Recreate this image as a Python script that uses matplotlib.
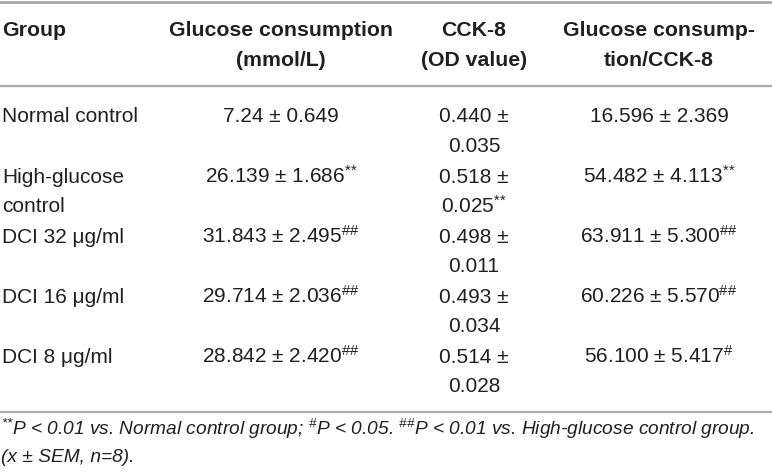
import matplotlib
matplotlib.use("Agg")
import matplotlib.pyplot as plt
from matplotlib.lines import Line2D

W, H = 772, 473
INK = "#231f20"
RULE = "#a7a9ac"

plt.rcParams.update({
    "font.family": "Liberation Sans",
    "mathtext.fontset": "custom",
    "mathtext.rm": "Liberation Sans",
    "mathtext.it": "Liberation Sans:italic",
    "mathtext.bf": "Liberation Sans:bold",
    "mathtext.default": "regular",
})

# table content
headers = [
    ["Group"],
    ["Glucose consumption", "(mmol/L)"],
    ["CCK-8", "(OD value)"],
    ["Glucose consump-", "tion/CCK-8"],
]
groups = ["Normal control", "High-glucose\ncontrol", "DCI 32 \u03bcg/ml",
          "DCI 16 \u03bcg/ml", "DCI 8 \u03bcg/ml"]
glu_mean = ["7.24", "26.139", "31.843", "29.714", "28.842"]
glu_sem = ["0.649", "1.686", "2.495", "2.036", "2.420"]
glu_sig = ["", "**", "##", "##", "##"]
cck_mean = ["0.440", "0.518", "0.498", "0.493", "0.514"]
cck_sem = ["0.035", "0.025", "0.011", "0.034", "0.028"]
cck_sig = ["", "**", "", "", ""]
ratio_mean = ["16.596", "54.482", "63.911", "60.226", "56.100"]
ratio_sem = ["2.369", "4.113", "5.300", "5.570", "5.417"]
ratio_sig = ["", "**", "##", "##", "#"]


def sup(mark):
    # superscript significance marks; braces keep '*' from getting operator spacing
    if not mark:
        return ""
    inner = "".join("{" + ("\\#" if c == "#" else c) + "}" for c in mark)
    return "$^{" + inner + "}$"


foot1 = (sup("**") + "P < 0.01 vs. Normal control group; " + sup("#") +
         "P < 0.05. " + sup("##") + "P < 0.01 vs. High-glucose control group.")
foot2 = "(x \u00b1 SEM, n=8)."

fig = plt.figure(figsize=(W / 100, H / 100), dpi=100)


def fx(x):
    return x / W


def fy(y):
    return 1 - y / H


def put(x, y, s, ha="center", dy=7.5, **kw):
    # y is the visual centre of the line in pixels from the top
    fig.text(fx(x), fy(y + dy), s, ha=ha, va="baseline", color=INK, **kw)


def rule(y, lw=1.6):
    fig.add_artist(Line2D([0, 1], [fy(y), fy(y)], transform=fig.transFigure,
                          color=RULE, lw=lw))


rule(2, lw=2.0)
rule(86)
rule(412)

col_x = [2, 281, 474, 659]
LINE = 30
FS = 15

# header
for i, lines in enumerate(headers):
    for j, s in enumerate(lines):
        put(col_x[i], 29 + j * LINE, s, ha="left" if i == 0 else "center",
            fontsize=FS + 0.3, fontweight="bold")

# body rows
row_y = [115, 175, 235, 295, 355]
for k, y in enumerate(row_y):
    for j, s in enumerate(groups[k].split("\n")):
        put(col_x[0], y + j * LINE, s, ha="left", fontsize=FS)
    put(col_x[1], y, f"{glu_mean[k]} \u00b1 {glu_sem[k]}" + sup(glu_sig[k]), fontsize=FS)
    put(col_x[2], y, f"{cck_mean[k]} \u00b1", fontsize=FS)
    put(col_x[2], y + LINE, cck_sem[k] + sup(cck_sig[k]), fontsize=FS)
    put(col_x[3], y, f"{ratio_mean[k]} \u00b1 {ratio_sem[k]}" + sup(ratio_sig[k]), fontsize=FS)

# footnote
put(1, 428, foot1, ha="left", dy=6.5, fontsize=13.8, style="italic")
put(1, 455, foot2, ha="left", dy=6.5, fontsize=13.8, style="italic")

fig.savefig("out.png", dpi=100, facecolor="white")
